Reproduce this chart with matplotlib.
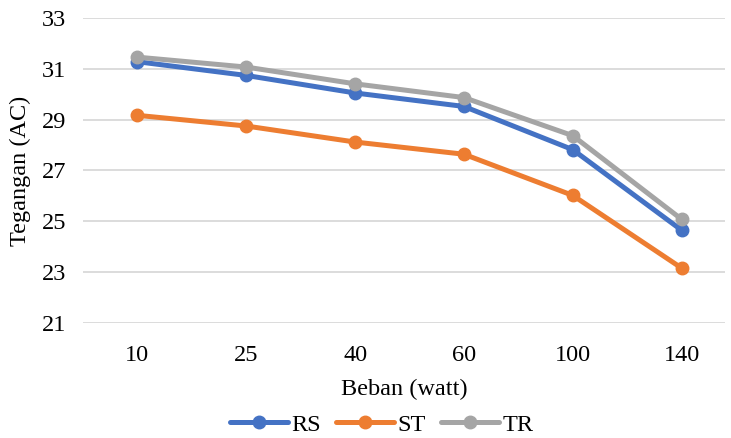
import matplotlib.pyplot as plt

# Data
beban = ["10", "25", "40", "60", "100", "140"]
rs = [31.28, 30.74, 30.05, 29.52, 27.82, 24.65]
st = [29.17, 28.75, 28.12, 27.64, 26.02, 23.16]
tr = [31.46, 31.07, 30.41, 29.87, 28.37, 25.08]

plt.rcParams['font.family'] = ['Liberation Serif', 'DejaVu Serif']

fig = plt.figure(figsize=(7.31, 4.38), dpi=100)
ax = fig.add_axes([0.1135, 0.2626, 0.8785, 0.6963])

x = range(len(beban))
for vals, color, name in [(rs, '#4472C4', 'RS'), (st, '#ED7D31', 'ST'), (tr, '#A5A5A5', 'TR')]:
    ax.plot(x, vals, color=color, linewidth=3.6, marker='o', markersize=9,
            label=name, solid_capstyle='round')

ax.set_xlim(-0.5, len(beban) - 0.6)
ax.set_ylim(21, 33)
ax.set_yticks(range(21, 34, 2))
ax.set_xticks(list(x))
ax.set_xticklabels(beban)
ax.tick_params(axis='both', length=0, labelsize=17.5, colors='#000000')
ax.tick_params(axis='y', pad=12)
ax.tick_params(axis='x', pad=16)
ax.grid(axis='y', color='#D9D9D9', linewidth=1.3)
ax.set_axisbelow(True)
for s in ax.spines.values():
    s.set_visible(False)

ax.set_xlabel("Beban (watt)", fontsize=17.5, labelpad=9)
ax.set_ylabel("Tegangan (AC)", fontsize=17.5, labelpad=8)

fig.legend(loc='center', bbox_to_anchor=(0.522, 0.03), ncol=3, frameon=False,
           fontsize=17.5, handlelength=2.4, columnspacing=0.6, handletextpad=0.15,
           borderaxespad=0, borderpad=0)

fig.savefig("out.png", dpi=100)
